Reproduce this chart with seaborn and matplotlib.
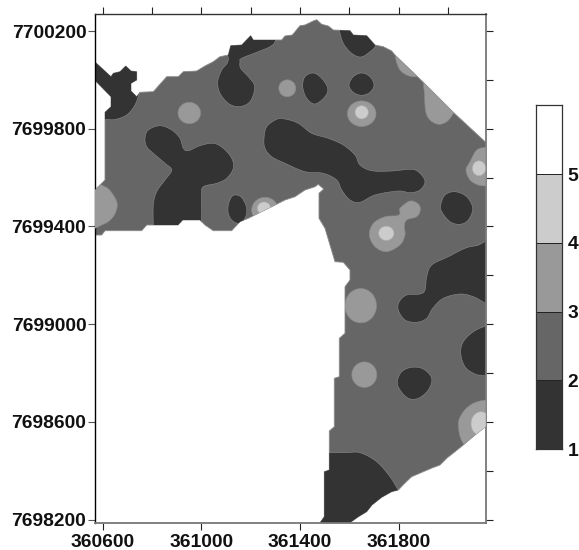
import numpy as np
import matplotlib
matplotlib.use("Agg")
import matplotlib.pyplot as plt
from matplotlib.patches import Polygon, Ellipse
import seaborn as sns

# Class colours and legend
CLASS_COLOURS = ["#333333", "#666666", "#999999", "#cccccc", "#ffffff"]
CLASS_LEVELS = [1, 2, 3, 4, 5]
CLASS_LABELS = ["1", "2", "3", "4", "5"]

EAST_LABELS = [360600, 361000, 361400, 361800]
NORTH_LABELS = [7698200, 7698600, 7699000, 7699400, 7699800, 7700200]
EAST_MINOR = [360600, 360800, 361000, 361200, 361400, 361600, 361800, 362000]
NORTH_MINOR = [7698200, 7698400, 7698600, 7698800, 7699000, 7699200, 7699400,
               7699600, 7699800, 7700000, 7700200]

# Map readings in survey-grid cells (column, row); converted to metres below.
site = [(94.7,235),(101.7,235),(105,230.7),(141.7,230.7),(146.7,225),(178,225),(182.7,220),(200,220),
        (205,225),(213.3,230.7),(231.7,230.7),(240,221.7),(248.3,218.3),(258.3,213.3),(271.7,206.7),
        (285,200),(295,196.7),(305,190),(315,186.7),(318.3,184.3),(323.7,189),(319,193.3),(319,218.3),
        (325,228.3),(330,245),(335,261.7),(343.3,262.3),(350,270),(350,280),(345,286.7),(345,333.3),
        (339.3,338.3),(339.3,376.7),(334.3,378.3),(334.3,426.7),(329.3,431),(329.3,470),(324.3,471.7),
        (324.3,516.7),(320,522.7),(350,522.7),(358,517),(366.7,511.7),(372,505),(381.7,497.3),(391.7,491.7),
        (398.3,490),(405,483),(411.7,476.7),(423.3,471.7),(432,468),(440,465),(447,458),(455,451.7),
        (463.3,445),(475,435),(485.7,426.7),
        (485.7,142.3),(453.3,112.3),(423.3,82.3),(395,55),(391.7,51),(383.3,46.7),(375,45),(366.7,35.7),
        (353.3,35),(350,30.7),(333.3,30),(328.3,26),(321.7,24.3),(316.7,19.7),(313.3,21),(305,25),
        (300,25.7),(292.3,35),(285,36),(281.7,40),(253.3,40),(250.7,35.7),(241.7,45),(230.7,45.7),
        (228.3,55),(220,56.7),(213.3,61.7),(205,66),(196.7,71),(183.3,71.7),(178.3,76.7),(166.7,76.7),
        (153.3,91.7),(140,92.3),(136.7,96.7),(131,91),(131,83.3),(136.7,80),(136.7,71.7),(131,71),
        (125.7,66),(120,71.7),(113.3,73.3),(111,76.7),(94.7,61.7),(94.7,80),(111,96.7),(111,106.7),
        (105,112.3),(105,180),(100,185),(94.7,190)]

class_1_zones = [
    [(85,50),(145,50),(145,88),(140,92.3),(135,105),(126.7,115),(115,119.5),(105,119.5),(85,119.5)],
    [(275,41.7),(270,46.7),(258.3,51.7),(241.7,58.3),(240,61.7),(240.7,68.3),(248.3,76.7),(254.3,85),
     (253.3,95),(248.3,103.3),(238.3,106.7),(228.3,103.3),(220,93.3),(217.7,81.7),(221.7,70),(228.3,60),
     (226,40),(250,30),(275,33)],
    [(145,138.3),(148.3,130),(160,125.7),(171.7,130),(180,138.3),(183.3,148.3),(188.3,150.7),(200,145.7),
     (213.3,143.3),(223.3,148.3),(231.7,158.3),(233.3,168.3),(226.7,178.3),(216.7,183.3),(203.3,186.7),
     (201.7,195),(201.7,215),(201.5,228),(201.5,245),(153.3,245),(153.3,228),(153.3,205),(156.7,191.7),
     (165,180),(171.7,170),(165,163.3),(153.3,153.3),(146.7,146.7)],
    [(228.3,205),(231.7,196.7),(236.7,195),(242.3,198.3),(246.7,208.3),(245,218.3),(238.3,223.3),
     (231.7,220),(228.3,213.3)],
    [(264,138.3),(266.7,126.7),(276.7,119.3),(285,119),(298.3,123.3),(311.7,133.3),(328.3,138.3),
     (343.3,145),(355,155),(360,165),(371.7,170.7),(391.7,171),(411.7,169.3),(420,173.3),(425,181.7),
     (420,190),(410,192.7),(398.3,191),(375,195),(360,202.3),(350,200),(341.7,190),(336.7,180),
     (323.3,173.3),(305,171.7),(285,163.3),(271.7,156.7),(265,148.3)],
    [(313.3,73),(321.7,78.3),(327.7,88.3),(325,96.7),(315,104),(306.7,98.3),(302.7,86.7),(305,76.7)],
    [(361.7,73),(370,76.7),(374,85),(370,92.3),(361.7,95.3),(353.3,92.3),(349,85),(353.3,76.7)],
    [(339.3,30),(343.3,43.3),(351.7,53.3),(361,57),(370,51.7),(375.7,45),(380,25),(339,22)],
    [(440.7,205),(445,195),(455,191.7),(466.7,196.7),(472.7,208.3),(468.3,220),(460,224.3),(450,221.7),
     (441.7,211.7)],
    [(426.7,276.7),(431.7,265),(448.3,256.7),(465,248.3),(476.7,245.7),(495,244),(495,307),(485.7,303.3),
     (473.3,296.7),(460,294),(443.3,298.3),(432.7,308.3),(426.7,318.3),(416.7,322.3),(405,320),(398.3,310),
     (399.3,301.7),(406.7,295),(420,294),(425,290)],
    [(485.7,326),(473.3,331.7),(463.3,341.7),(460.7,353.3),(465,366.7),(475,374),(485.7,376),(495,378),
     (495,324)],
    [(397.3,381.7),(401.7,371.7),(411.7,367.3),(423.3,369),(431.7,378.3),(428.3,390),(418.3,398.3),
     (408.3,398.3),(400,390)],
    [(320,452.7),(345,452.7),(360,452.7),(376.7,461.7),(390,476.7),(398.3,490),(405,500),(350,535),
     (310,535),(310,452.7)],
]

class_3_zones = [
    [(88,184),(105,186.7),(113.3,195),(117.3,205),(113.3,216.7),(103.3,224.3),(88,226)],
    [(396,53),(396,60),(400,70),(408.3,75.7),(418,76.5),(425,72),(400,45)],
    [(423.7,78),(424.5,95),(425.7,111.7),(430,120),(438.3,124.3),(446.7,121.7),(453.3,113.5),(460,100),
     (430,72)],
    [(485.7,147.3),(476.7,150),(470,161.7),(466,170),(470,180),(478.3,185),(485.7,186),(497,187),(497,146)],
    [(400,208.3),(410,201),(418.3,204),(420.3,210),(416.7,216.7),(406.7,220),(404.3,226.7),(405,235),
     (400,245),(386.7,251.7),(375,246.7),(369.3,235),(373.3,223.3),(385,216.7),(396.7,215.7),(400,213.3)],
    [(485.7,400),(473.3,403.3),(463.3,411.7),(458.3,425),(465,445),(490,450),(497,400)],
]

# Round class patches: centre column, centre row, half widths
class_3_round = [(189.3,113,11.3,10.7),(287.3,88.3,8.5,8.5),(265,210,13.3,12.7),(361.7,113.7,14.3,12.8),
                 (360.7,305.7,15.8,17.2),(364.3,374.7,12.5,12.8)]
class_4_round = [(264,208.3,6.7,6.3),(361.7,112.3,6.7,6.7),(479,168.3,6.7,7.5),(386.3,233.3,7.7,7.2),
                 (481,423.7,10,12)]

# Grid-to-metre calibration of the survey
COL0, ROW0, EAST0, NORTH0 = 102.6, 31.0, 360600.0, 7700200.0
M_PER_COL, M_PER_ROW = 400 / 98.65, 400 / 97.7


def east(c):
    return EAST0 + (np.asarray(c, float) - COL0) * M_PER_COL


def north(r):
    return NORTH0 - (np.asarray(r, float) - ROW0) * M_PER_ROW


def to_map(pts):
    a = np.asarray(pts, float)
    return np.column_stack([east(a[:, 0]), north(a[:, 1])])


def rounded(pts, n=8):
    """Closed Catmull-Rom curve through the outline readings."""
    p = np.asarray(pts, float)
    out = []
    for i in range(len(p)):
        p0, p1, p2, p3 = p[i - 1], p[i], p[(i + 1) % len(p)], p[(i + 2) % len(p)]
        for t in np.linspace(0, 1, n, endpoint=False):
            out.append(0.5 * (2 * p1 + (p2 - p0) * t + (2 * p0 - 5 * p1 + 4 * p2 - p3) * t ** 2
                              + (3 * p1 - p0 - 3 * p2 + p3) * t ** 3))
    return np.array(out)


sns.set_theme(style="ticks")
plt.rcParams["font.family"] = ["Liberation Sans", "DejaVu Sans"]
plt.rcParams["font.weight"] = "bold"

W, H = 579, 550
fig = plt.figure(figsize=(W / 100, H / 100), dpi=100, facecolor="white")
ax = fig.add_axes([94.7 / W, (H - 522.7) / H, 391 / W, 508.4 / H])
ax.set_xlim(east(94.7), east(485.7))
ax.set_ylim(north(522.7), north(14.3))

edge = "#8a8a8a"
site_patch = Polygon(to_map(site), closed=True, fc=CLASS_COLOURS[1], ec=edge, lw=0.6, zorder=1)
ax.add_patch(site_patch)


def add_zone(p, z):
    ax.add_patch(p)
    p.set_zorder(z)
    p.set_clip_path(site_patch)


for zone in class_1_zones:
    add_zone(Polygon(to_map(rounded(zone)), closed=True, fc=CLASS_COLOURS[0], ec=edge, lw=0.4), 2)
for zone in class_3_zones:
    add_zone(Polygon(to_map(rounded(zone)), closed=True, fc=CLASS_COLOURS[2], ec=edge, lw=0.4), 3)
for c, r, hw, hh in class_3_round:
    add_zone(Ellipse((east(c), north(r)), 2 * hw * M_PER_COL, 2 * hh * M_PER_ROW,
                     fc=CLASS_COLOURS[2], ec=edge, lw=0.4), 3)
for c, r, hw, hh in class_4_round:
    add_zone(Ellipse((east(c), north(r)), 2 * hw * M_PER_COL, 2 * hh * M_PER_ROW,
                     fc=CLASS_COLOURS[3], ec="#aaaaaa", lw=0.4), 4)

fs = 13.9
ax.set_xticks(EAST_LABELS)
ax.set_xticklabels([str(v) for v in EAST_LABELS], fontsize=fs, fontweight="bold", color="#111111")
ax.set_yticks(NORTH_LABELS)
ax.set_yticklabels([str(v) for v in NORTH_LABELS], fontsize=fs, fontweight="bold", color="#111111")
ax.tick_params(axis="x", length=5, width=0.8, pad=3, color="#222222")
ax.tick_params(axis="y", length=5, width=0.8, pad=1, color="#555555")

top = ax.secondary_xaxis("top")
top.set_xticks(EAST_MINOR)
top.set_xticklabels([])
top.tick_params(length=5, width=0.8, color="#222222")
top.spines["top"].set_visible(False)
right = ax.secondary_yaxis("right")
right.set_yticks(NORTH_MINOR)
right.set_yticklabels([])
right.tick_params(length=5, width=0.8, color="#222222")
right.spines["right"].set_visible(False)

for side, col, lw in [("left", "black", 1.0), ("top", "#333333", 1.0),
                      ("right", "#777777", 1.3), ("bottom", "#777777", 1.3)]:
    ax.spines[side].set_color(col)
    ax.spines[side].set_linewidth(lw)

# Colour key
cax = fig.add_axes([536 / W, (H - 449) / H, 26 / W, 343.7 / H])
cax.bar([0] * len(CLASS_LEVELS), [1] * len(CLASS_LEVELS), bottom=CLASS_LEVELS, width=1,
        color=CLASS_COLOURS, edgecolor="#222222", linewidth=0.7, align="center")
cax.set_xlim(-0.5, 0.5)
cax.set_ylim(1, 6)
cax.set_xticks([])
cax.yaxis.tick_right()
cax.set_yticks(CLASS_LEVELS)
cax.set_yticklabels(CLASS_LABELS, fontsize=fs, fontweight="bold", color="#111111")
cax.tick_params(axis="y", length=0, pad=4)
for s in cax.spines.values():
    s.set_color("#333333")
    s.set_linewidth(0.9)

fig.savefig("out.png", dpi=100, facecolor="white")
